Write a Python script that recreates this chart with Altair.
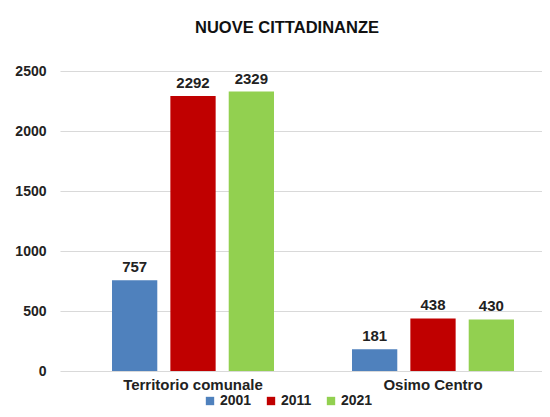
import altair as alt
import pandas as pd

categories = ["Territorio comunale", "Osimo Centro"]
years = ["2001", "2011", "2021"]
values_2001 = [757, 181]
values_2011 = [2292, 438]
values_2021 = [2329, 430]
colors = ["#4f81bd", "#c00000", "#92d050"]

rows = []
for i, c in enumerate(categories):
    for y, vals in zip(years, [values_2001, values_2011, values_2021]):
        rows.append({"cat": c, "anno": y, "val": vals[i]})
df = pd.DataFrame(rows)

FONT = "Liberation Sans"

x = alt.X("cat:N", sort=categories, title=None,
          scale=alt.Scale(paddingInner=0.325, paddingOuter=0.1667, align=0.65),
          axis=alt.Axis(labelAngle=0, labelFont=FONT, labelFontWeight="bold",
                        labelFontSize=15, labelColor="#222", labelPadding=6,
                        ticks=False, domain=False, grid=False))
xo = alt.XOffset("anno:N", sort=years,
                 scale=alt.Scale(paddingInner=0.224, paddingOuter=0))
y = alt.Y("val:Q", title=None,
          scale=alt.Scale(domain=[0, 2500], nice=False),
          axis=alt.Axis(values=[0, 500, 1000, 1500, 2000, 2500], format="d",
                        labelFont=FONT,
                        labelFontWeight="bold", labelFontSize=14, labelColor="#222",
                        labelPadding=14, ticks=False, domain=False,
                        gridColor="#d9d9d9", gridWidth=1))

bars = alt.Chart(df).mark_bar().encode(
    x=x, xOffset=xo, y=y,
    color=alt.Color("anno:N", sort=years, title=None,
                    scale=alt.Scale(domain=years, range=colors),
                    legend=alt.Legend(orient="none", direction="horizontal",
                                      legendX=143, legendY=323,
                                      symbolType="square", symbolSize=70,
                                      symbolStrokeWidth=0,
                                      labelFont=FONT, labelFontWeight="bold",
                                      labelFontSize=14, labelColor="#222",
                                      columnPadding=12, labelOffset=3)),
)

labels = alt.Chart(df).mark_text(baseline="bottom", dy=-5, font=FONT,
                                 fontWeight="bold", fontSize=15,
                                 color="#222").encode(
    x=x, xOffset=xo, y=y, text=alt.Text("val:Q"))

chart = alt.layer(bars, labels).properties(
    width=482, height=300,
    background="white",
    title=alt.Title("NUOVE CITTADINANZE", font=FONT, fontWeight="bold",
                    fontSize=16.5, color="#111", dx=-14, offset=28),
    autosize=alt.AutoSizeParams(type="none"),
    padding={"left": 52, "top": 63, "right": 0, "bottom": 38},
).configure_view(stroke=None).configure_axis(
    domain=False, ticks=False
)

chart.save("out.html", embed_options={"renderer": "svg", "actions": False})
